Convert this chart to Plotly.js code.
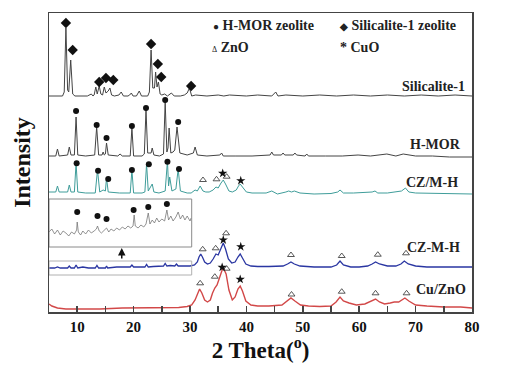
<!DOCTYPE html>
<html><head><meta charset="utf-8">
<script src="https://cdn.plot.ly/plotly-3.0.1.min.js"></script>
<style>html,body{margin:0;padding:0;background:#fff}#chart{width:506px;height:368px}</style>
</head><body><div id="chart"></div>
<script>
// ---------- data (2θ in degrees, intensity in arbitrary display units) ----------
const SIL_BASE = 216, HMOR_BASE = 156, CZMH_SLASH_BASE = 118, CZMH_BASE = 45, CU_BASE = 4;

const sil_x = [5, 7.4, 7.7, 8.0, 8.3, 8.5, 8.85, 9.2, 9.6, 11.8, 12.5, 12.8, 13.0, 13.3, 13.55, 13.9, 14.2, 14.5, 14.8, 15.1, 15.5, 15.8, 16.1, 16.6, 17.4, 17.8, 18.2, 19.0, 19.3, 19.6, 19.9, 20.5, 21.0, 21.4, 22.5, 22.8, 23.1, 23.4, 23.7, 23.9, 24.15, 24.4, 24.7, 25.0, 25.5, 26.0, 26.7, 27.2, 28.3, 29.0, 29.5, 29.9, 30.3, 31, 33, 35, 36, 37, 40, 42, 44.5, 45.2, 45.6, 47, 50, 53, 56, 59, 62, 65, 68, 71, 74, 77, 80];
const sil_y = [0, 0, 4, 68, 6, 4, 36, 2, 0, 0, 2, 0, 1, 9, 2, 10, 2, 1, 9, 3, 5, 8, 1, 0, 1, 4, 0, 0, 1, 3, 0, 0, 5, 0, 0, 4, 46, 8, 8, 24, 9, 14, 2, 1, 2, 0, 3, 0, 0, 1, 3, 8, 0, 1, 0, 1, 0, 1, 0, 1, 0, 4, 0, 1, 0, 1, 0, 1, 0, 1, 0, 1, 0, 1, 0];

const hmor_x = [5, 6.2, 6.5, 6.8, 8.3, 8.6, 8.9, 9.5, 9.8, 10.1, 11.5, 13.1, 13.45, 13.8, 14.4, 14.6, 14.8, 15.0, 15.2, 15.5, 17.2, 17.6, 18.0, 19.4, 19.7, 20.0, 21.5, 21.9, 22.2, 22.5, 23.1, 23.3, 23.6, 24.6, 25.3, 25.6, 25.9, 26.1, 26.3, 26.6, 27.0, 27.3, 27.7, 27.9, 28.2, 29.5, 30.3, 30.6, 30.9, 31.3, 33, 35.3, 35.6, 35.9, 38, 41, 44.2, 44.5, 44.8, 46.2, 46.5, 46.8, 48.3, 48.6, 48.9, 50.4, 50.7, 51.0, 54, 57, 59.8, 62, 64.9, 66.5, 67.8, 70, 73, 76, 80];
const hmor_y = [0, 0, 7, 0, 1, 9, 1, 1, 39, 1, 0, 1, 29, 1, 1, 4, 1, 2, 13, 1, 0, 2, 0, 0, 28, 0, 0, 2, 46, 3, 3, 8, 1, 0, 2, 54, 4, 8, 28, 3, 4, 6, 29, 18, 3, 1, 2, 3, 9, 1, 0, 1, 3, 0, 0, 0, 1, 4, 1, 1, 3, 1, 1, 3, 1, 0, 2, 0, 0, 0, 1, 0, 2, 0, 2, 0, 0, -1, -1];

const czs_x = [5, 6.2, 6.5, 6.8, 8.3, 8.6, 8.9, 9.5, 9.8, 10.1, 11.5, 13.2, 13.6, 14.0, 14.6, 15.0, 15.2, 15.5, 17.5, 19.4, 19.7, 20.0, 21.5, 22.0, 22.3, 22.6, 23.3, 23.6, 24.5, 25.6, 26.0, 26.2, 26.4, 26.8, 27.5, 27.9, 28.3, 29.5, 30.2, 30.9, 31.3, 31.8, 32.3, 32.8, 33.4, 34.1, 34.6, 35.0, 35.5, 35.9, 36.3, 36.9, 37.5, 38.2, 38.6, 38.9, 39.3, 40.0, 41, 43.5, 44.5, 45.5, 47, 47.5, 48, 48.5, 49.5, 52, 55, 56.2, 56.6, 57.2, 59, 61, 62.3, 62.8, 63.3, 65, 67.5, 68.2, 68.8, 70, 73, 76, 80];
const czs_y = [2, 2, 8, 2, 2, 9, 2, 2, 31, 2, 1, 1, 24, 2, 4, 3, 16, 2, 1, 1, 24, 1, 1, 2, 30, 3, 10, 2, 1, 3, 33, 8, 17, 3, 5, 25, 3, 1, 1, 4, 3, 8, 3, 2, 2, 4, 7, 6, 11, 14, 10, 3, 2, 4, 8, 10, 7, 2, 1, 1, 3, 0, 2, 3, 2, 3, 1, 0, 0.5, 2, 4, 1, 1, 1.5, 2, 3, 1, 1, 3, 6, 2, 1, 0.5, 0, 0];

const czm_x = [5, 6, 6.5, 7, 8.3, 8.6, 8.9, 9.5, 9.8, 10.1, 11, 12, 13.2, 13.5, 13.8, 15, 15.2, 15.4, 17, 18.5, 19.4, 19.7, 20, 21, 22, 22.3, 22.6, 23.5, 24.5, 25.3, 25.6, 25.9, 26.5, 27.3, 27.6, 27.9, 29, 30, 30.8, 31.3, 31.6, 31.9, 32.2, 32.6, 33.1, 33.6, 34.1, 34.6, 35.0, 35.5, 35.9, 36.3, 36.8, 37.4, 38.0, 38.5, 38.9, 39.3, 39.9, 40.8, 42, 44, 46.5, 47.3, 47.9, 48.5, 49.5, 52, 55, 56.0, 56.6, 57.2, 58.5, 60, 61.5, 62.3, 62.9, 63.6, 65, 66.5, 67.4, 68, 68.7, 70, 72, 75, 78, 80];
const czm_y = [-1, -1, 0, -1, -1, 1, -1, -1, 2, -1, 0, -1, -1, 1.5, -1, -1, 1, -1, 0, 0, 0, 2, 0, 0, 0, 2.5, 0, 0.5, 0.5, 1, 3.5, 1, 1.5, 1, 3, 1, 1, 1, 2, 5, 10, 13, 10, 5, 3, 4, 8, 13, 12, 19, 24, 18, 8, 4, 5, 10, 13, 9, 3, 1, 0.5, 0.5, 1, 3, 5, 3, 1, 0, 0, 2, 6, 2, 0, 0, 1, 3, 5, 3, 1, 1, 3, 6, 3, 1, 0, 0, 0, 0];

const cu_x = [5, 5.5, 6.5, 8, 10, 14, 18, 22, 26, 28, 29.5, 30.3, 30.9, 31.3, 31.7, 32.1, 32.6, 33.1, 33.6, 34.0, 34.4, 34.8, 35.3, 35.7, 36.0, 36.4, 36.9, 37.5, 38.0, 38.5, 38.9, 39.3, 39.9, 40.8, 42, 44, 46.3, 47.2, 47.9, 48.6, 49.6, 51, 53, 55, 55.9, 56.6, 57.2, 58.2, 59.5, 61, 62.2, 62.9, 63.6, 64.5, 65.5, 66.2, 67, 67.5, 68.1, 68.8, 70, 72, 75, 78, 80];
const cu_y = [4, 2, 0, -1, -1, -1, 0, 0, 0, 0.5, 1.5, 3, 8, 14, 19, 15, 8, 6, 8, 15, 20, 23, 32, 38, 39, 34, 18, 8, 11, 19, 22, 17, 7, 3, 2, 2, 3, 7, 10, 7, 3, 2, 1.5, 2, 6, 11, 7, 5, 3, 4, 7, 9, 6, 4, 5, 6, 6, 8, 10, 7, 3, 2, 1, 1, 0];

// magnified inset of the CZ-M-H low-angle region
const inset_x = [5, 5.5, 6, 6.5, 7, 7.5, 8, 8.5, 9, 9.5, 9.9, 10.0, 10.2, 10.6, 11, 11.5, 12, 12.5, 13, 13.4, 13.6, 13.9, 14.3, 14.8, 15.2, 15.6, 16, 16.5, 17, 17.5, 18, 18.5, 19, 19.5, 19.9, 20.1, 20.3, 20.8, 21.3, 21.8, 22.2, 22.6, 22.9, 23.3, 23.7, 24.1, 24.5, 25, 25.5, 25.9, 26.2, 26.6, 27, 27.5, 27.9, 28.3, 28.7, 29.1, 29.5, 30, 30.2];
const inset_y = [80, 83, 78, 82, 77, 81, 79, 76, 80, 78, 82, 90, 80, 77, 81, 78, 82, 79, 81, 83, 86, 81, 79, 82, 84, 80, 83, 81, 84, 82, 85, 83, 86, 84, 86, 97, 86, 84, 87, 85, 88, 99, 88, 92, 89, 94, 90, 93, 91, 102, 92, 96, 91, 95, 100, 93, 97, 92, 96, 91, 94];

// phase markers
const dia_x = [8.0, 9.2, 13.9, 15.1, 16.4, 23.1, 24.3, 24.9, 30.2];
const dia_y = [289, 262, 230, 234, 232, 268, 248, 235, 226];
const circ_x = [9.8, 13.45, 15.2, 19.7, 22.2, 25.6, 27.9, 9.9, 13.7, 15.5, 19.7, 22.7, 26.0, 28.05, 10.0, 13.6, 15.2, 20.0, 22.6, 25.9];
const circ_y = [201, 187, 174, 186, 204, 212, 190, 148.7, 141.3, 133, 142, 147.7, 150.3, 143, 100, 96, 93, 102, 105, 108];
const tri_x = [32.3, 34.7, 36.5, 32.25, 34.55, 36.4, 47.9, 56.9, 63.3, 68.3, 31.8, 34.4, 36.5, 48.0, 56.9, 62.9, 68.4];
const tri_y = [132, 132.7, 135.3, 62.7, 63.7, 78.7, 57, 56, 57.3, 58.7, 28.7, 35.3, 43.3, 17.5, 20.3, 18.7, 18.7];
const star_x = [35.8, 39.0, 35.9, 39.0, 35.7, 38.9];
const star_y = [138.7, 131.3, 72, 65.3, 44.7, 32.7];

const series_names = ['Silicalite-1', 'H-MOR', 'CZ/M-H', 'CZ-M-H', 'Cu/ZnO'];
const x_ticks = [10, 20, 30, 40, 50, 60, 70, 80];

// ---------- drawing ----------
const F = 'Liberation Serif, Times New Roman, serif';
const shift = (arr, b) => arr.map(v => v + b);
function line(x, y, color, w) {
  return {x, y, type: 'scatter', mode: 'lines', line: {color, width: w || 1}, hoverinfo: 'skip', showlegend: false, cliponaxis: false};
}
function marks(x, y, symbol, size, extra) {
  return Object.assign({x, y, type: 'scatter', mode: 'markers', showlegend: false, cliponaxis: false,
    marker: {symbol, size, color: '#111', line: {color: '#111', width: 0}}}, extra || {});
}

const traces = [
  line(sil_x, shift(sil_y, SIL_BASE), '#444444'),
  line(hmor_x, shift(hmor_y, HMOR_BASE), '#444444'),
  line(czs_x, shift(czs_y, CZMH_SLASH_BASE), '#3f9d9a'),
  line(czm_x, shift(czm_y, CZMH_BASE), '#2a36a2', 1.3),
  line(cu_x, shift(cu_y, CU_BASE), '#d24848', 1.4),
  line(inset_x, inset_y, '#777777', 0.8),
  marks(dia_x, dia_y, 'diamond', 8),
  marks(circ_x, circ_y, 'circle', 6),
  marks(tri_x, tri_y, 'triangle-up-open', 6, {marker: {symbol: 'triangle-up-open', size: 6, color: '#444', line: {color: '#444', width: 0.9}}}),
  marks(star_x, star_y, 'star', 7)
];

const labelPos = [[79.1, 226], [78.4, 168], [77.9, 130], [78.2, 65], [79.3, 23]];
const annotations = series_names.map((n, i) => ({
  x: labelPos[i][0], y: labelPos[i][1], xref: 'x', yref: 'y', xanchor: 'right', yanchor: 'middle',
  text: n, showarrow: false, font: {family: F, size: 14, color: '#222', weight: 'bold'}
}));
const legFont = {family: F, size: 14, color: '#222', weight: 'bold'};
annotations.push(
  {xref: 'paper', yref: 'paper', x: 0.383, y: 0.957, xanchor: 'left', yanchor: 'middle', showarrow: false,
   text: '<span style="font-size:10px">●</span> H-MOR zeolite', font: legFont},
  {xref: 'paper', yref: 'paper', x: 0.682, y: 0.957, xanchor: 'left', yanchor: 'middle', showarrow: false,
   text: '<span style="font-size:10px">◆</span> Silicalite-1 zeolite', font: legFont},
  {xref: 'paper', yref: 'paper', x: 0.381, y: 0.883, xanchor: 'left', yanchor: 'middle', showarrow: false,
   text: '<span style="font-size:8px;font-weight:normal">Δ</span> ZnO', font: legFont},
  {xref: 'paper', yref: 'paper', x: 0.684, y: 0.883, xanchor: 'left', yanchor: 'middle', showarrow: false,
   text: '* CuO', font: legFont},
  {x: 17.9, y: 64, ax: 17.9, ay: 52, xref: 'x', yref: 'y', axref: 'x', ayref: 'y', text: '',
   showarrow: true, arrowhead: 2, arrowsize: 1, arrowwidth: 1.5, arrowcolor: '#111'}
);

const layout = {
  width: 506, height: 368,
  margin: {l: 49, r: 34, t: 13, b: 56},
  paper_bgcolor: '#fff', plot_bgcolor: '#fff',
  showlegend: false,
  xaxis: {
    range: [5, 80], tickvals: x_ticks, ticks: 'inside', ticklen: 6, tickwidth: 1.5, tickcolor: '#444',
    minor: {dtick: 5, tick0: 0, ticks: 'inside', ticklen: 6, tickwidth: 1.5, tickcolor: '#444'},
    showline: true, mirror: true, linecolor: '#444', linewidth: 1.5, showgrid: false, zeroline: false,
    tickfont: {family: F, size: 15, color: '#111', weight: 'bold'},
    title: {text: '2 Theta(<sup>o</sup>)', font: {family: F, size: 23, color: '#111', weight: 'bold'}, standoff: 7}
  },
  yaxis: {
    range: [0, 299], showticklabels: false, ticks: '', showgrid: false, zeroline: false,
    showline: true, mirror: true, linecolor: '#444', linewidth: 1.5,
    title: {text: 'Intensity', font: {family: F, size: 24, color: '#111', weight: 'bold'}, standoff: 10}
  },
  shapes: [
    {type: 'rect', xref: 'x', yref: 'y', x0: 5, x1: 30.3, y0: 65, y1: 113, line: {color: '#8a8a8a', width: 1}},
    {type: 'rect', xref: 'x', yref: 'y', x0: 5, x1: 30.3, y0: 37, y1: 51, line: {color: '#b0b0b0', width: 1}}
  ],
  annotations
};
Plotly.newPlot('chart', traces, layout, {staticPlot: true, displayModeBar: false});
</script></body></html>
